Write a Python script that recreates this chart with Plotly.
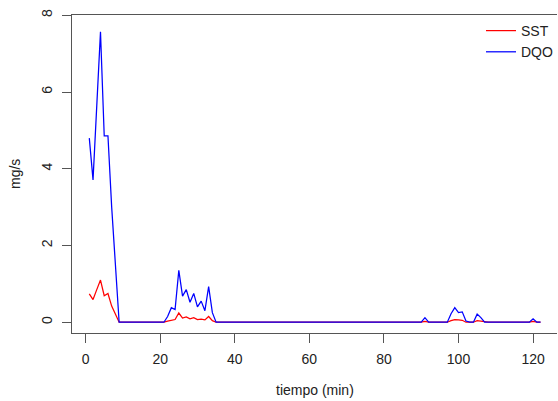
import plotly.graph_objects as go

# Sampling times (one reading per minute)
minutes = list(range(1, 123))

# Suspended solids load (mg/s)
sst = [
    0.74, 0.59, 0.85, 1.10, 0.69, 0.75, 0.42, 0.19, 0.00, 0.00,   # 1-10
    0.00, 0.00, 0.00, 0.00, 0.00, 0.00, 0.00, 0.00, 0.00, 0.00,   # 11-20
    0.00, 0.03, 0.06, 0.07, 0.24, 0.11, 0.14, 0.09, 0.12, 0.07,   # 21-30
    0.08, 0.06, 0.15, 0.04, 0.00, 0.00, 0.00, 0.00, 0.00, 0.00,   # 31-40
    0.00, 0.00, 0.00, 0.00, 0.00, 0.00, 0.00, 0.00, 0.00, 0.00,   # 41-50
    0.00, 0.00, 0.00, 0.00, 0.00, 0.00, 0.00, 0.00, 0.00, 0.00,   # 51-60
    0.00, 0.00, 0.00, 0.00, 0.00, 0.00, 0.00, 0.00, 0.00, 0.00,   # 61-70
    0.00, 0.00, 0.00, 0.00, 0.00, 0.00, 0.00, 0.00, 0.00, 0.00,   # 71-80
    0.00, 0.00, 0.00, 0.00, 0.00, 0.00, 0.00, 0.00, 0.00, 0.00,   # 81-90
    0.02, 0.00, 0.00, 0.00, 0.00, 0.00, 0.00, 0.04, 0.07, 0.06,   # 91-100
    0.05, 0.00, 0.00, 0.00, 0.04, 0.02, 0.00, 0.00, 0.00, 0.00,   # 101-110
    0.00, 0.00, 0.00, 0.00, 0.00, 0.00, 0.00, 0.00, 0.00, 0.02,   # 111-120
    0.00, 0.00,                                                   # 121-122
]

# Chemical oxygen demand load (mg/s)
dqo = [
    4.80, 3.71, 5.64, 7.57, 4.86, 4.86, 3.00, 1.50, 0.00, 0.00,   # 1-10
    0.00, 0.00, 0.00, 0.00, 0.00, 0.00, 0.00, 0.00, 0.00, 0.00,   # 11-20
    0.00, 0.15, 0.38, 0.33, 1.35, 0.68, 0.85, 0.52, 0.75, 0.40,   # 21-30
    0.55, 0.30, 0.93, 0.25, 0.00, 0.00, 0.00, 0.00, 0.00, 0.00,   # 31-40
    0.00, 0.00, 0.00, 0.00, 0.00, 0.00, 0.00, 0.00, 0.00, 0.00,   # 41-50
    0.00, 0.00, 0.00, 0.00, 0.00, 0.00, 0.00, 0.00, 0.00, 0.00,   # 51-60
    0.00, 0.00, 0.00, 0.00, 0.00, 0.00, 0.00, 0.00, 0.00, 0.00,   # 61-70
    0.00, 0.00, 0.00, 0.00, 0.00, 0.00, 0.00, 0.00, 0.00, 0.00,   # 71-80
    0.00, 0.00, 0.00, 0.00, 0.00, 0.00, 0.00, 0.00, 0.00, 0.00,   # 81-90
    0.12, 0.00, 0.00, 0.00, 0.00, 0.00, 0.00, 0.22, 0.38, 0.25,   # 91-100
    0.27, 0.03, 0.00, 0.00, 0.21, 0.12, 0.00, 0.00, 0.00, 0.00,   # 101-110
    0.00, 0.00, 0.00, 0.00, 0.00, 0.00, 0.00, 0.00, 0.00, 0.09,   # 111-120
    0.00, 0.00,                                                   # 121-122
]

x_ticks = [0, 20, 40, 60, 80, 100, 120]
y_ticks = [0, 2, 4, 6, 8]

FONT = "Liberation Sans, Arial, Helvetica, sans-serif"
AXIS_COLOR = "#555555"

fig = go.Figure()
fig.add_trace(go.Scatter(x=minutes, y=sst, mode="lines", name="SST",
                         line=dict(color="#ff0000", width=1.25)))
fig.add_trace(go.Scatter(x=minutes, y=dqo, mode="lines", name="DQO",
                         line=dict(color="#0000ff", width=1.25)))

fig.update_layout(
    width=558, height=401,
    margin=dict(l=72, r=0, t=15, b=68),
    paper_bgcolor="white", plot_bgcolor="white",
    font=dict(family=FONT, size=14, color="#222222"),
    showlegend=True,
    legend=dict(x=0.8436, xanchor="left", y=1.0, yanchor="top",
                bgcolor="rgba(0,0,0,0)", borderwidth=0,
                font=dict(family=FONT, size=14, color="#222222"),
                tracegroupgap=0),
    xaxis=dict(range=[-3.64, 126.41], tickvals=x_ticks,
               ticks="outside", ticklen=9, tickcolor=AXIS_COLOR, tickwidth=1.2,
               showline=True, linecolor=AXIS_COLOR, linewidth=1.2, mirror=True,
               showgrid=False, zeroline=False, ticklabelstandoff=4),
    yaxis=dict(range=[-0.281, 8.008], tickvals=y_ticks, tickangle=-90,
               ticks="outside", ticklen=9, tickcolor=AXIS_COLOR, tickwidth=1.2,
               showline=True, linecolor=AXIS_COLOR, linewidth=1.2, mirror=False,
               showgrid=False, zeroline=False, ticklabelstandoff=4),
    annotations=[
        dict(text="tiempo (min)", xref="paper", yref="paper", x=0.5, y=0,
             xanchor="center", yanchor="middle", yshift=-57, showarrow=False,
             font=dict(family=FONT, size=14, color="#222222")),
        dict(text="mg/s", xref="paper", yref="paper", x=0, y=0.5,
             xanchor="center", yanchor="middle", xshift=-57, textangle=-90,
             showarrow=False, font=dict(family=FONT, size=14, color="#222222")),
    ],
)

fig.write_html("out.html")
